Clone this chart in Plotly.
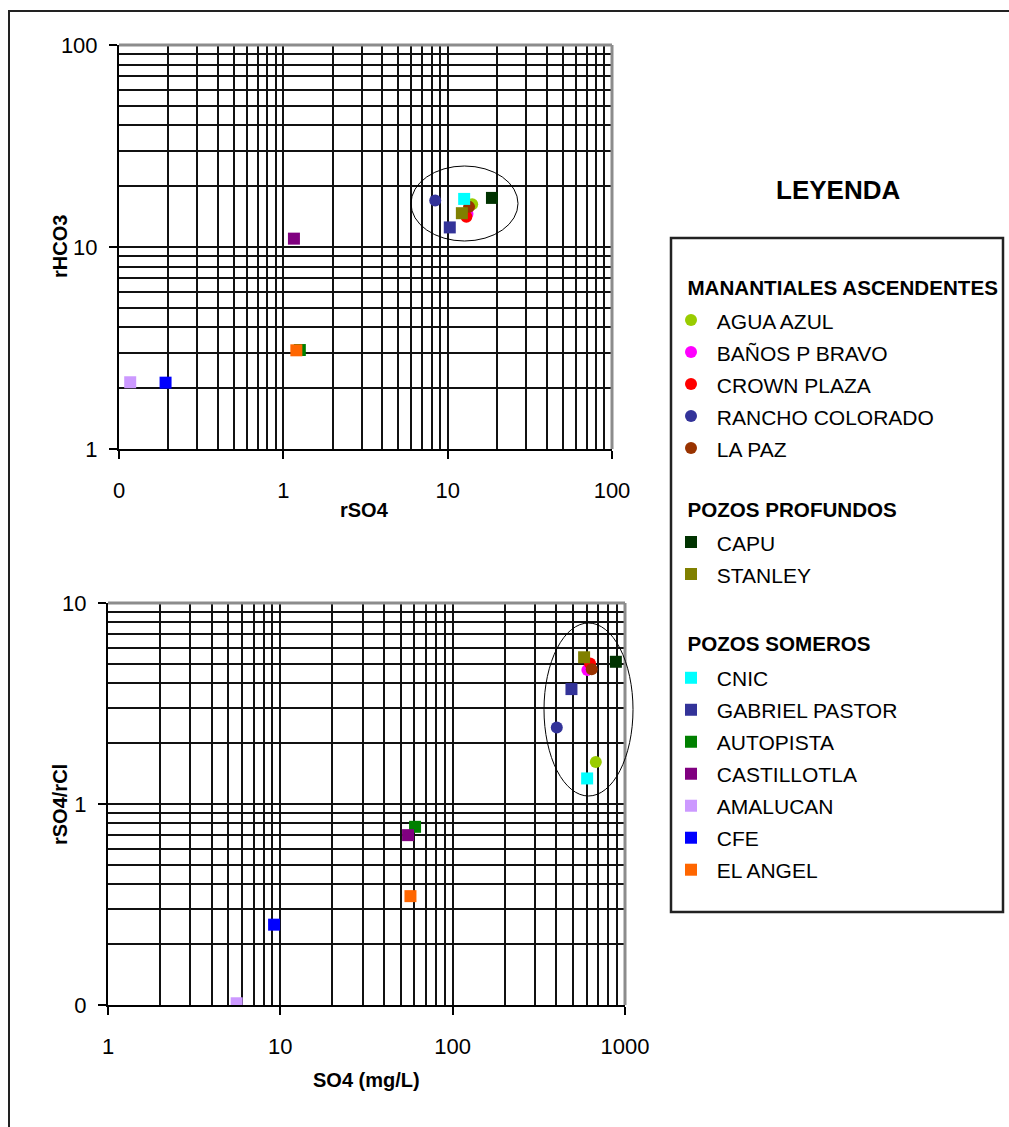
import plotly.graph_objects as go

W, H = 1009, 1127

# ---- sample sites -------------------------------------------------------
names = ["AGUA AZUL", "BAÑOS P BRAVO", "CROWN PLAZA", "RANCHO COLORADO", "LA PAZ",
         "CAPU", "STANLEY",
         "CNIC", "GABRIEL PASTOR", "AUTOPISTA", "CASTILLOTLA", "AMALUCAN", "CFE", "EL ANGEL"]
groups = (["MANANTIALES ASCENDENTES"] * 5
          + ["POZOS PROFUNDOS"] * 2
          + ["POZOS SOMEROS"] * 7)
colors = ["#99CC00", "#FF00FF", "#FF0000", "#333399", "#993300",
          "#003300", "#808000",
          "#00FFFF", "#333399", "#008000", "#800080", "#CC99FF", "#0000FF", "#FF6600"]
symbols = ["circle"] * 5 + ["square"] * 9

# upper diagram: rSO4 vs rHCO3 (meq/L)
rso4 = [14.1, 13.2, 13.0, 8.4, 13.5, 18.6, 12.2, 12.6, 10.3, 1.26, 1.16, 0.117, 0.192, 1.2]
rhco3 = [16.3, 14.6, 14.1, 17.0, 15.8, 17.5, 14.7, 17.3, 12.5, 3.09, 11.0, 2.14, 2.13, 3.08]

# lower diagram: SO4 (mg/L) vs rSO4/rCl
so4_mgl = [677, 605, 627, 402, 641, 885, 579, 603, 489, 60.5, 55.1, 5.58, 9.2, 56.9]
rso4_rcl = [1.62, 4.64, 5.0, 2.40, 4.68, 5.1, 5.37, 1.34, 3.73, 0.77, 0.70, 0.102, 0.251, 0.348]

# axis ticks
top_x_ticks = [0.1, 1, 10, 100]
top_x_text = ["0", "1", "10", "100"]
top_y_ticks = [1, 10, 100]
top_y_text = ["1", "10", "100"]
bot_x_ticks = [1, 10, 100, 1000]
bot_x_text = ["1", "10", "100", "1000"]
bot_y_ticks = [0.1, 1, 10]
bot_y_text = ["0", "1", "10"]

NB = "\u00a0"
SANS = "Liberation Sans, Arial, sans-serif"
TICK_FONT = dict(family=SANS, size=22, color="black")
TITLE_FONT = dict(family=SANS, size=20, color="black", weight="bold")

# slot size of each legend heading (controls spacing around it)
group_title_slot = {"MANANTIALES ASCENDENTES": 30,
                    "POZOS PROFUNDOS": 28.5,
                    "POZOS SOMEROS": 36}


def px(x):
    return x / W


def py(y):
    return 1 - y / H


def minor_vals(lo_exp, hi_exp):
    return [m * 10 ** e for e in range(lo_exp, hi_exp) for m in range(2, 10)]


def log_axis(domain, rng, tickvals, ticktext, minors, anchor, is_x):
    return dict(
        type="log", domain=domain, range=rng, anchor=anchor,
        tickvals=tickvals, ticktext=ticktext, tickfont=TICK_FONT,
        ticks="outside", ticklen=8, tickwidth=1.5, tickcolor="black",
        ticklabelstandoff=13 if is_x else 7,
        showgrid=True, gridcolor="#111111", gridwidth=1.6,
        minor=dict(tickvals=minors, showgrid=True, gridcolor="#111111",
                   gridwidth=1.6, ticks=""),
        showline=True, linecolor="black", linewidth=2,
        zeroline=False, fixedrange=True,
    )


fig = go.Figure()

seen = set()
for i, name in enumerate(names):
    first_in_group = groups[i] not in seen
    seen.add(groups[i])
    common = dict(
        mode="markers",
        marker=dict(color=colors[i], symbol=symbols[i], size=12, line=dict(width=0)),
        legendgroup=groups[i],
    )
    tr_top = go.Scatter(
        x=[rso4[i]], y=[rhco3[i]], xaxis="x", yaxis="y",
        name=f'<span style="font-size:21px">{NB}{name}</span>',
        showlegend=True, **common,
    )
    if first_in_group:
        tr_top.legendgrouptitle = dict(
            text=f'<span style="font-size:20.6px">{NB}{NB}{groups[i]}</span>',
            font=dict(family=SANS, size=group_title_slot[groups[i]],
                      color="black", weight="bold"),
        )
    fig.add_trace(tr_top)
    fig.add_trace(go.Scatter(
        x=[so4_mgl[i]], y=[rso4_rcl[i]], xaxis="x2", yaxis="y2",
        name=name, showlegend=False, **common,
    ))

fig.update_layout(
    width=W, height=H,
    margin=dict(l=0, r=0, t=0, b=0, autoexpand=False),
    paper_bgcolor="white", plot_bgcolor="white",
    xaxis=log_axis([px(119), px(612)], [-1, 2], top_x_ticks, top_x_text,
                   minor_vals(-1, 2), "y", True),
    yaxis=log_axis([py(449), py(45)], [0, 2], top_y_ticks, top_y_text,
                   minor_vals(0, 2), "x", False),
    xaxis2=log_axis([px(108), px(625)], [0, 3], bot_x_ticks, bot_x_text,
                    minor_vals(0, 3), "y2", True),
    yaxis2=log_axis([py(1005), py(603)], [-1, 1], bot_y_ticks, bot_y_text,
                    minor_vals(-1, 1), "x2", False),
    legend=dict(
        x=px(671), y=py(257), xanchor="left", yanchor="top",
        bgcolor="rgba(0,0,0,0)", borderwidth=0,
        font=dict(family=SANS, size=22.3, color="black"),
        traceorder="grouped", tracegroupgap=22, itemclick=False, itemdoubleclick=False,
    ),
    showlegend=True,
)

shapes = []
# grey top/right frame of each diagram
for xr, yr in (("x", "y"), ("x2", "y2")):
    shapes.append(dict(type="line", xref=f"{xr} domain", yref=f"{yr} domain",
                       x0=0, x1=1, y0=1, y1=1, line=dict(color="#8c8c8c", width=3)))
    shapes.append(dict(type="line", xref=f"{xr} domain", yref=f"{yr} domain",
                       x0=1, x1=1, y0=0, y1=1, line=dict(color="#8c8c8c", width=3)))
# ellipses around the clustered samples
shapes.append(dict(type="circle", xref="paper", yref="paper",
                   x0=px(411), x1=px(518), y0=py(241), y1=py(166),
                   line=dict(color="black", width=1)))
shapes.append(dict(type="circle", xref="paper", yref="paper",
                   x0=px(544), x1=px(633), y0=py(796), y1=py(623),
                   line=dict(color="black", width=1)))
# legend box
shapes.append(dict(type="rect", xref="paper", yref="paper",
                   x0=px(671), x1=px(1003), y0=py(912), y1=py(238),
                   line=dict(color="#222222", width=2.5)))
# outer frame
shapes.append(dict(type="rect", xref="paper", yref="paper",
                   x0=px(9), x1=1.02, y0=-0.02, y1=py(11),
                   line=dict(color="#222222", width=2)))
fig.update_layout(shapes=shapes)

annotations = [
    dict(text="rHCO3", x=px(60), y=py(247), textangle=-90, font=TITLE_FONT),
    dict(text="rSO4", x=px(364), y=py(510), font=TITLE_FONT),
    dict(text="rSO4/rCl", x=px(60), y=py(805), textangle=-90, font=TITLE_FONT),
    dict(text="SO4 (mg/L)", x=px(366), y=py(1080), font=TITLE_FONT),
    dict(text="LEYENDA", x=px(838), y=py(190),
         font=dict(family=SANS, size=26, color="black", weight="bold")),
]
for a in annotations:
    a.update(xref="paper", yref="paper", showarrow=False, xanchor="center", yanchor="middle")
fig.update_layout(annotations=annotations)

fig.write_html("out.html")
